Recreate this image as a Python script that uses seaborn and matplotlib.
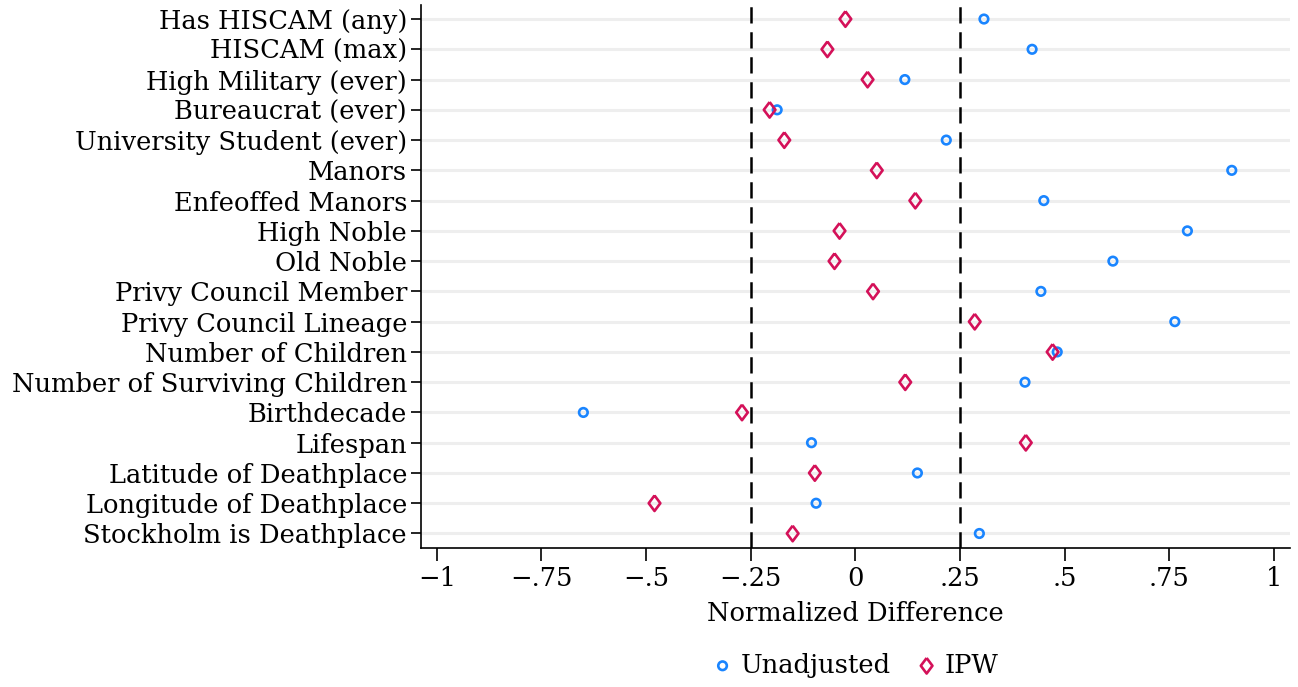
import matplotlib
matplotlib.use("Agg")
import matplotlib.pyplot as plt
import seaborn as sns
import pandas as pd
import numpy as np

variables = [
    "Has HISCAM (any)", "HISCAM (max)", "High Military (ever)", "Bureaucrat (ever)",
    "University Student (ever)", "Manors", "Enfeoffed Manors", "High Noble",
    "Old Noble", "Privy Council Member", "Privy Council Lineage",
    "Number of Children", "Number of Surviving Children", "Birthdecade",
    "Lifespan", "Latitude of Deathplace", "Longitude of Deathplace",
    "Stockholm is Deathplace",
]
unadjusted = [0.307, 0.422, 0.118, -0.187, 0.217, 0.899, 0.450, 0.793,
              0.615, 0.443, 0.763, 0.482, 0.405, -0.650, -0.105, 0.148,
              -0.094, 0.296]
ipw = [-0.024, -0.067, 0.029, -0.205, -0.170, 0.051, 0.143, -0.038,
       -0.050, 0.042, 0.285, 0.471, 0.119, -0.271, 0.407, -0.097,
       -0.480, -0.150]
xtick_vals = [-1, -0.75, -0.5, -0.25, 0, 0.25, 0.5, 0.75, 1]
xtick_labels = ["\u22121", "\u2212.75", "\u2212.5", "\u2212.25", "0", ".25", ".5", ".75", "1"]
thresholds = [-0.25, 0.25]

BLUE = "#1a85ff"
RED = "#d41159"

df = pd.DataFrame({
    "variable": variables * 2,
    "pos": list(range(len(variables))) * 2,
    "value": unadjusted + ipw,
    "series": ["Unadjusted"] * len(variables) + ["IPW"] * len(variables),
})

sns.set_theme(style="white")
plt.rcParams["font.family"] = ["DejaVu Serif"]
plt.rcParams["text.color"] = "black"
plt.rcParams["axes.labelcolor"] = "black"
plt.rcParams["xtick.color"] = "black"
plt.rcParams["ytick.color"] = "black"
FS = 18.5

fig = plt.figure(figsize=(12.98, 6.87), dpi=100)
ax = fig.add_axes([0.3243, 0.2023, 0.6695, 0.7907])

for i in range(len(variables)):
    ax.axhline(i, color="#eeeeee", lw=2.2, zorder=0)
for t in thresholds:
    ax.axvline(t, color="black", lw=1.8, ls=(0, (6.5, 3.5)), zorder=1)

diamond = [(0, 1), (0.75, 0), (0, -1), (-0.75, 0), (0, 1)]

sub_u = df[df.series == "Unadjusted"]
sub_i = df[df.series == "IPW"]
sns.scatterplot(data=sub_u, x="value", y="pos", marker="o", s=38,
                facecolor="none", edgecolor=BLUE, linewidth=1.9, ax=ax,
                label="Unadjusted", zorder=3)
sns.scatterplot(data=sub_i, x="value", y="pos", marker=diamond, s=125,
                facecolor="none", edgecolor=RED, linewidth=1.9, ax=ax,
                label="IPW", zorder=4)

ax.set_xlim(-1.038, 1.038)
ax.set_ylim(len(variables) - 1 + 0.48, -0.47)
ax.set_yticks(range(len(variables)))
ax.set_yticklabels(variables, fontsize=FS)
ax.set_xticks(xtick_vals)
ax.set_xticklabels(xtick_labels, fontsize=FS)
ax.set_xlabel("Normalized Difference", fontsize=FS, labelpad=7)
ax.set_ylabel("")

for s in ["top", "right"]:
    ax.spines[s].set_visible(False)
for s in ["left", "bottom"]:
    ax.spines[s].set_color("black")
    ax.spines[s].set_linewidth(1.2)
ax.tick_params(axis="y", which="both", left=True, length=7, width=1.2, pad=3, color="black")
ax.tick_params(axis="x", which="both", bottom=True, length=9, width=1.2, pad=4, color="black")

handles, labels = ax.get_legend_handles_labels()
ax.get_legend().remove()
fig.legend(handles, labels, loc="center", bbox_to_anchor=(0.659, 0.032), ncol=2,
           frameon=False, fontsize=FS, handlelength=0.8, handletextpad=0.3,
           columnspacing=1.0, borderaxespad=0, borderpad=0)

fig.savefig("out.png", dpi=100)
